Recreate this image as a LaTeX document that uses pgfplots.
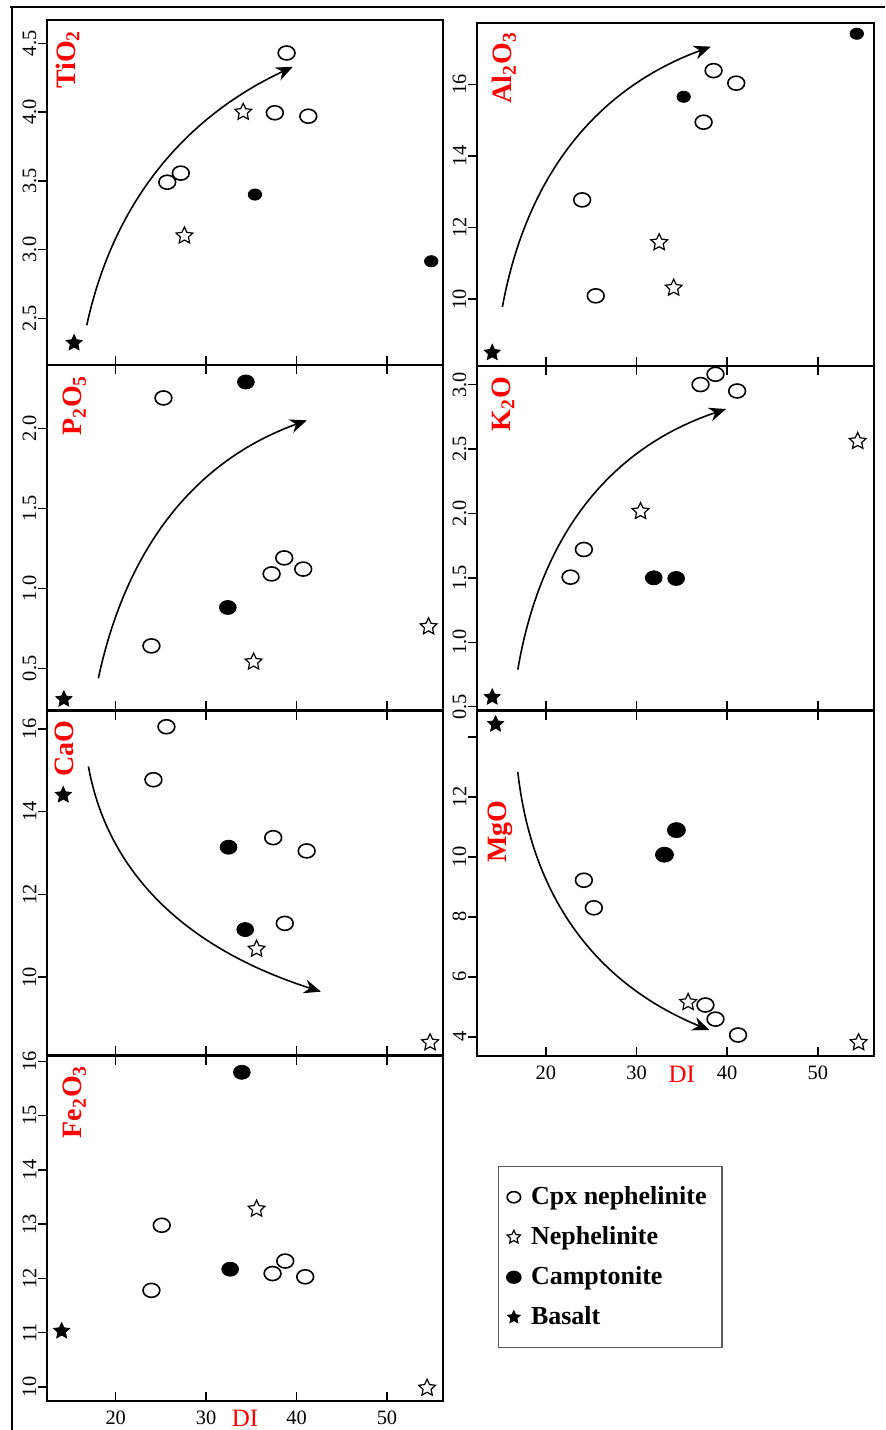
\documentclass[border=0pt]{standalone}
\usepackage{fontspec}
\setmainfont{Liberation Serif}
\usepackage{pgfplots}
\pgfplotsset{compat=1.18}
\usetikzlibrary{arrows.meta}

% five-pointed star mark
\pgfdeclareplotmark{fivestar}{%
  \pgfpathmoveto{\pgfpointpolar{90}{\pgfplotmarksize}}%
  \pgfpathlineto{\pgfpointpolar{126}{0.48\pgfplotmarksize}}%
  \pgfpathlineto{\pgfpointpolar{162}{\pgfplotmarksize}}%
  \pgfpathlineto{\pgfpointpolar{198}{0.48\pgfplotmarksize}}%
  \pgfpathlineto{\pgfpointpolar{234}{\pgfplotmarksize}}%
  \pgfpathlineto{\pgfpointpolar{270}{0.48\pgfplotmarksize}}%
  \pgfpathlineto{\pgfpointpolar{306}{\pgfplotmarksize}}%
  \pgfpathlineto{\pgfpointpolar{342}{0.48\pgfplotmarksize}}%
  \pgfpathlineto{\pgfpointpolar{18}{\pgfplotmarksize}}%
  \pgfpathlineto{\pgfpointpolar{54}{0.48\pgfplotmarksize}}%
  \pgfpathclose
  \pgfusepathqfillstroke
}

\newcommand\ticksize{\fontsize{10.2}{12}\selectfont}

\tikzset{
  trend/.style={line width=0.8pt, -{Stealth[length=8.5pt,width=7pt]}},
  plabel/.style={rotate=90, anchor=base east, text=red, inner sep=0pt,
    font=\fontsize{14}{16}\selectfont\bfseries},
}

\pgfplotsset{
  panel/.style={
    scale only axis, clip=false, anchor=north west,
    xmin=12.4, xmax=56.2,
    xtick={20,30,40,50}, xticklabels={},
    axis line style={line width=1.3pt},
    xtick align=inside, ytick align=outside,
    major tick length=4.5pt,
    tick style={black, line width=0.7pt},
    ytick pos=left, xtick pos=both,
    /pgf/number format/assume math mode=true,
    yticklabel style={rotate=90, anchor=south, inner sep=0.6pt, font=\ticksize},
    xticklabel style={font=\ticksize, yshift=-1.5pt},
    xlabel style={at={(axis description cs:0.5,0)}, anchor=north, inner sep=0pt,
      text=red, font=\fontsize{12.5}{14}\selectfont},
  },
  cpx/.style={only marks, mark=o, mark size=3.5pt,
    mark options={xscale=1.2, line width=0.8pt, draw=black, fill=white}},
  neph/.style={only marks, mark=fivestar, mark size=4.4pt,
    mark options={line width=0.6pt, draw=black, fill=white}},
  camp/.style={only marks, mark=*, mark size=3.5pt,
    mark options={xscale=1.2, draw=black, fill=black}},
  campsmall/.style={camp, mark size=2.8pt},
  bas/.style={only marks, mark=fivestar, mark size=4.2pt,
    mark options={line width=0.4pt, draw=black, fill=black}},
}

\begin{document}
\begin{tikzpicture}
\useasboundingbox (0,0) rectangle (442.5pt,-715pt);
% outer frame
\draw[line width=1pt] (5pt,-3.65pt) -- (442.5pt,-3.65pt);
\draw[line width=1pt] (5.85pt,-3.65pt) -- (5.85pt,-715pt);

% ---------------- TiO2 ----------------
\begin{axis}[panel, at={(23.5pt,-10pt)}, width=198pt, height=172.5pt,
  xtick pos=bottom,
  ymin=2.16, ymax=4.67, ytick={2.5,3.0,3.5,4.0,4.5},
  yticklabel style={/pgf/number format/.cd, fixed, fixed zerofill, precision=1}]
\addplot[cpx] coordinates {(25.7,3.49) (27.2,3.556) (37.6,3.995) (41.3,3.97) (38.9,4.43)};
\addplot[neph] coordinates {(34.1,4.0) (27.6,3.1)};
\addplot[campsmall] coordinates {(35.4,3.40) (54.9,2.915)};
\addplot[bas] coordinates {(15.4,2.32)};
\draw[trend] (axis cs:16.8,2.45) .. controls (axis cs:19.67,3.32) and (axis cs:27.27,3.95) .. (axis cs:39.6,4.33);
\node[plabel] at ([shift={(14pt,-5pt)}]axis description cs:0,1) {TiO\textsubscript{2}};
\end{axis}

% ---------------- Al2O3 ----------------
\begin{axis}[panel, at={(238.5pt,-11.5pt)}, width=198.5pt, height=171.5pt,
  xtick pos=bottom,
  ymin=8.13, ymax=17.71, ytick={10,12,14,16}]
\addplot[cpx] coordinates {(24.0,12.77) (25.5,10.09) (37.4,14.94) (38.5,16.38) (41.0,16.03)};
\addplot[neph] coordinates {(32.5,11.58) (34.1,10.31)};
\addplot[campsmall] coordinates {(35.2,15.65) (54.3,17.41)};
\addplot[bas] coordinates {(14.08,8.50)};
\draw[trend] (axis cs:15.2,9.78) .. controls (axis cs:17.87,13.45) and (axis cs:25.53,15.87) .. (axis cs:38.2,17.05);
\node[plabel] at ([shift={(17.3pt,-4.3pt)}]axis description cs:0,1) {Al\textsubscript{2}O\textsubscript{3}};
\end{axis}

% ---------------- P2O5 ----------------
\begin{axis}[panel, at={(23.5pt,-182.5pt)}, width=198pt, height=172.5pt,
  ymin=0.239, ymax=2.396, ytick={0.5,1.0,1.5,2.0},
  yticklabel style={/pgf/number format/.cd, fixed, fixed zerofill, precision=1}]
\addplot[cpx] coordinates {(25.28,2.19) (23.95,0.64) (37.24,1.09) (38.64,1.19) (40.74,1.12)};
\addplot[neph] coordinates {(35.25,0.54) (54.6,0.76)};
\addplot[camp] coordinates {(34.4,2.29) (32.4,0.88)};
\addplot[bas] coordinates {(14.27,0.306)};
\draw[trend] (axis cs:18.08,0.4375) .. controls (axis cs:21.21,1.264) and (axis cs:28.90,1.801) .. (axis cs:41.15,2.05);
\node[plabel] at ([shift={(17.3pt,-5pt)}]axis description cs:0,1) {P\textsubscript{2}O\textsubscript{5}};
\end{axis}

% ---------------- K2O ----------------
\begin{axis}[panel, at={(238.5pt,-183pt)}, width=198.5pt, height=172pt,
  ymin=0.474, ymax=3.144, ytick={0.5,1.0,1.5,2.0,2.5,3.0},
  yticklabel style={/pgf/number format/.cd, fixed, fixed zerofill, precision=1}]
\addplot[cpx] coordinates {(22.72,1.505) (24.19,1.72) (37.06,3.0) (38.71,3.08) (41.1,2.95)};
\addplot[neph] coordinates {(30.44,2.016) (54.4,2.56)};
\addplot[camp] coordinates {(31.9,1.5) (34.37,1.495)};
\addplot[bas] coordinates {(14.08,0.573)};
\draw[trend] (axis cs:16.9,0.787) .. controls (axis cs:19.43,1.834) and (axis cs:27.09,2.508) .. (axis cs:39.88,2.81);
\node[plabel] at ([shift={(16.5pt,-5.3pt)}]axis description cs:0,1) {K\textsubscript{2}O};
\end{axis}

% ---------------- CaO ----------------
\begin{axis}[panel, at={(23.5pt,-355.5pt)}, width=198pt, height=172pt,
  ymin=8.12, ymax=16.43, ytick={10,12,14,16}]
\addplot[cpx] coordinates {(25.61,16.05) (24.17,14.77) (37.42,13.37) (41.12,13.05) (38.7,11.30)};
\addplot[neph] coordinates {(35.58,10.68) (54.77,8.42)};
\addplot[camp] coordinates {(32.48,13.14) (34.32,11.15)};
\addplot[bas] coordinates {(14.2,14.40)};
\draw[trend] (axis cs:16.98,15.09) .. controls (axis cs:19.12,12.52) and (axis cs:27.69,10.70) .. (axis cs:42.7,9.65);
\node[plabel] at ([shift={(13.2pt,-4.5pt)}]axis description cs:0,1) {CaO};
\end{axis}

% ---------------- MgO ----------------
\begin{axis}[panel, at={(238.5pt,-355.5pt)}, width=198.5pt, height=172.5pt,
  ymin=3.36, ymax=14.86, ytick={4,6,8,10,12,14}, yticklabels={4,6,8,10,12,},
  xticklabels={20,30,40,50},
  xlabel={DI}, xlabel style={at={(axis description cs:0.516,0)}, yshift=-4.8pt},
  legend style={at={(axis description cs:0.053,-0.319)}, anchor=north west,
    draw=black!65, line width=0.6pt, inner xsep=4pt, inner ysep=8.5pt,
    font=\fontsize{13}{15}\selectfont\bfseries,
    row sep=6.5pt, column sep=3.5pt, nodes={inner sep=1.5pt}},
  legend cell align=left,
  legend image code/.code={\draw[#1] plot coordinates {(0pt,0pt)};},
  legend image post style={every mark/.append style={scale=0.8}}]
\addplot[cpx] coordinates {(24.19,9.22) (25.29,8.3) (37.6,5.06) (38.71,4.59) (41.2,4.06)};
\addlegendentry{\makebox[90pt][l]{Cpx nephelinite}}
\addplot[neph] coordinates {(35.69,5.15) (54.5,3.81)};
\addlegendentry{Nephelinite}
\addplot[camp, mark size=3.75pt] coordinates {(34.4,10.89) (33.08,10.07)};
\addlegendentry{Camptonite}
\addplot[bas] coordinates {(14.45,14.42)};
\addlegendentry{Basalt}
\draw[trend] (axis cs:16.9,12.83) .. controls (axis cs:18.45,8.65) and (axis cs:25.50,5.78) .. (axis cs:38.05,4.22);
\node[plabel] at ([shift={(14.8pt,-44.5pt)}]axis description cs:0,1) {MgO};
\end{axis}

% ---------------- Fe2O3 ----------------
\begin{axis}[panel, at={(23.5pt,-528pt)}, width=198pt, height=172.5pt,
  ymin=9.74, ymax=16.1, ytick={10,11,12,13,14,15,16},
  xticklabels={20,30,40,50},
  xlabel={DI}, xlabel style={yshift=-4.6pt}]
\addplot[cpx] coordinates {(23.95,11.78) (25.09,12.98) (37.35,12.09) (38.75,12.32) (40.96,12.03)};
\addplot[neph] coordinates {(35.58,13.28) (54.44,9.98)};
\addplot[camp] coordinates {(33.95,15.80) (32.66,12.17)};
\addplot[bas] coordinates {(14.02,11.03)};
\node[plabel] at ([shift={(17.3pt,-4.5pt)}]axis description cs:0,1) {Fe\textsubscript{2}O\textsubscript{3}};
\end{axis}
\end{tikzpicture}
\end{document}
